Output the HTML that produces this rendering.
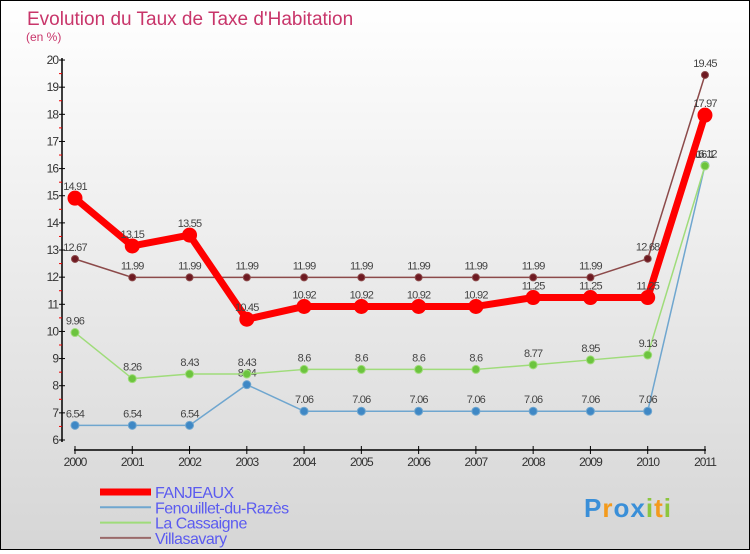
<!DOCTYPE html>
<html><head><meta charset="utf-8"><style>
html,body{margin:0;padding:0}
body{width:750px;height:550px;overflow:hidden;font-family:"Liberation Sans","DejaVu Sans",sans-serif}
#wrap{position:relative;width:748px;height:548px;border:1px solid #000;background:linear-gradient(#ffffff,#d6d6d6)}
</style></head><body>
<div id="wrap">
<svg id="chart" width="748" height="548" viewBox="0 0 748 548"></svg>
</div>
<script>
const years=["2000","2001","2002","2003","2004","2005","2006","2007","2008","2009","2010","2011"];
const fanjeaux=[14.91,13.15,13.55,10.45,10.92,10.92,10.92,10.92,11.25,11.25,11.25,17.97];
const fenouillet=[6.54,6.54,6.54,8.04,7.06,7.06,7.06,7.06,7.06,7.06,7.06,16.12];
const cassaigne=[9.96,8.26,8.43,8.43,8.6,8.6,8.6,8.6,8.77,8.95,9.13,16.1];
const villasavary=[12.67,11.99,11.99,11.99,11.99,11.99,11.99,11.99,11.99,11.99,12.68,19.45];
const yTicks=[6,7,8,9,10,11,12,13,14,15,16,17,18,19,20];
const seriesNames=["FANJEAUX","Fenouillet-du-Razès","La Cassaigne","Villasavary"];
const NS="http://www.w3.org/2000/svg";
const svg=document.getElementById('chart');
const ox=-1,oy=-1;
function X(i){return 75+i*57.27+ox;}
function Y(v){return 440-(v-6)*27.14+oy;}
function mk(t,a,p){const e=document.createElementNS(NS,t);for(const k in a)e.setAttribute(k,a[k]);(p||svg).appendChild(e);return e;}
const f='"Liberation Sans",sans-serif';
let t=mk('text',{x:26,y:24,'font-size':19,fill:'#c8356a','font-family':f});t.textContent="Evolution du Taux de Taxe d'Habitation";

t=mk('text',{x:25,y:40,'font-size':12,fill:'#c8356a','font-family':f});t.textContent="(en %)";

// axes
let ax=mk('line',{x1:62+ox,y1:Y(20)-2,x2:62+ox,y2:Y(6)+2,stroke:'#000','stroke-width':1.5});

yTicks.forEach(v=>{mk('line',{x1:59+ox,y1:Y(v),x2:65+ox,y2:Y(v),stroke:'#000'});
 if(v<20)mk('line',{x1:59+ox,y1:Y(v+0.5),x2:62+ox,y2:Y(v+0.5),stroke:'#e00'});
 const l=mk('text',{x:58+ox,y:Y(v)+4,'font-size':12,fill:'#333','text-anchor':'end','font-family':f,'letter-spacing':'-1'});l.textContent=v;
 });
ax=mk('line',{x1:X(0)-1,y1:450+oy,x2:X(11)+1,y2:450+oy,stroke:'#000','stroke-width':1.5});

years.forEach((y,i)=>{mk('line',{x1:X(i),y1:446+oy,x2:X(i),y2:454+oy,stroke:'#000'});
 const l=mk('text',{x:X(i),y:466+oy,'font-size':12,fill:'#333','text-anchor':'middle','font-family':f,'letter-spacing':'-1'});l.textContent=y;
 });
function series(data,color,dot,lw,r,name){
 const g=mk('g',{});
 mk('polyline',{points:data.map((v,i)=>X(i)+','+Y(v)).join(' '),fill:'none',stroke:color,'stroke-width':lw,'stroke-linejoin':'round'},g);
 data.forEach((v,i)=>{const c=mk('circle',{cx:X(i),cy:Y(v),r:r,fill:dot,stroke:color,'stroke-width':1},g);
  
  const l=mk('text',{x:X(i),y:Y(v)-8,'font-size':11,fill:'#444','text-anchor':'middle','font-family':f,'letter-spacing':'-0.8'},g);l.textContent=v;
  });
}
series(fenouillet,'#6fa6cf','#3f88c5',1.5,4,'series-fenouillet');
series(cassaigne,'#9fdc7a','#6cc43e',1.5,4,'series-la-cassaigne');
series(villasavary,'#8c4a4a','#6e1a22',1.5,3.5,'series-villasavary');
series(fanjeaux,'#ff0000','#ff0000',7,7,'series-fanjeaux');
// legend
const lc=[['#ff0000',7],['#6fa6cf',2],['#9fdc7a',2],['#9a6a6a',2]];
seriesNames.forEach((n,i)=>{const y=492+i*15.3+oy;
 const g=mk('g',{});
 mk('line',{x1:100+ox,y1:y,x2:151+ox,y2:y,stroke:lc[i][0],'stroke-width':lc[i][1]},g);
 const l=mk('text',{x:155+ox,y:y+6,'font-size':16,fill:'#5b5bf0','font-family':f,'letter-spacing':'-0.5'},g);l.textContent=n;});
// logo
const lg=mk('text',{x:583,y:516,'font-size':26,'font-weight':'bold','font-family':f,'letter-spacing':'1'});

[['P','#3a8fd8'],['r','#f39a1c'],['o','#3a8fd8'],['x','#3a8fd8'],['i','#8cc63f'],['t','#f39a1c'],['i','#8cc63f']].forEach(([c,col])=>{const s=mk('tspan',{fill:col},lg);s.textContent=c;});
</script>
</body></html>
